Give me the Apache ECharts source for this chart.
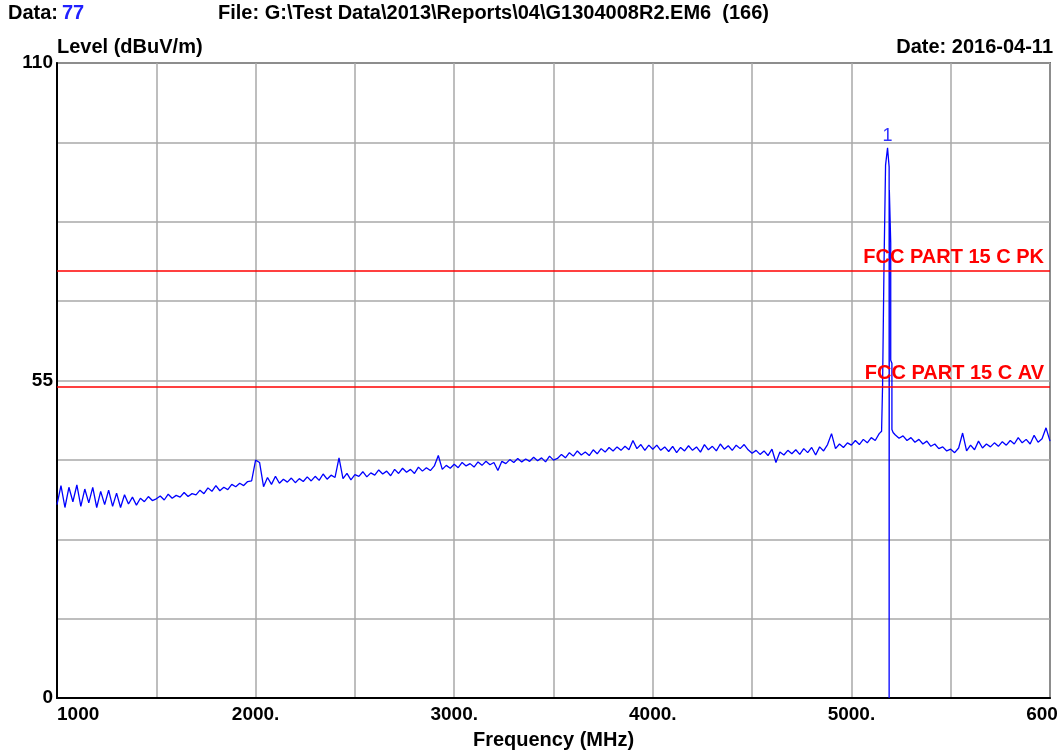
<!DOCTYPE html>
<html>
<head>
<meta charset="utf-8">
<script src="https://cdn.jsdelivr.net/npm/echarts@6/dist/echarts.min.js"></script>
<style>
html,body{margin:0;padding:0;background:#fff;}
#chart{width:1057px;height:751px;}
</style>
</head>
<body>
<div id="chart"></div>
<script>
// ---- data ----
const sweepStartA = 1000, sweepStep = 20;
const floorA = [
  33.5, 36.8, 33.0, 36.5, 34.0, 36.9, 33.2, 36.2, 33.8, 36.5,
  33.0, 35.8, 33.5, 36.0, 33.2, 35.5, 33.0, 35.2, 33.6, 34.8,
  33.4, 34.6, 34.0, 34.9, 34.2, 34.5, 35.0, 34.3, 35.3, 34.6,
  35.1, 34.8, 35.6, 34.9, 35.4, 35.2, 36.0, 35.4, 36.4, 35.8,
  36.8, 35.9, 36.5, 36.1, 37.0, 36.6, 37.2, 36.8, 37.5, 37.6,
  41.2, 40.8, 36.6, 38.2, 37.0, 38.4, 37.2, 37.9, 37.4, 38.1,
  37.3, 38.0, 37.5, 38.3, 37.6, 38.4, 37.7, 38.8, 37.9, 38.6,
  38.2, 41.6, 38.0, 38.9, 37.8, 38.7, 38.4, 39.2, 38.3, 39.0,
  38.6, 39.5, 38.8, 39.3, 38.5, 39.6, 38.9, 39.8, 39.1, 39.6,
  38.9, 40.0, 39.3, 39.9, 39.4, 40.2, 42.0, 39.6, 40.3, 39.8,
  40.5, 39.9, 40.8, 40.2, 40.6, 40.0, 40.9, 40.3, 41.0, 40.4,
  40.8, 39.4, 41.0, 40.6, 41.3, 40.8, 41.5, 40.9, 41.4, 41.0,
  41.7, 41.1, 41.6, 40.9, 41.9, 41.2, 41.5, 42.2, 41.6, 42.5,
  41.9, 42.8, 42.1, 42.6, 42.0, 43.0, 42.3, 43.2, 42.6, 43.4,
  42.8, 43.5, 42.9, 43.6, 43.0, 44.6, 43.2, 43.9, 42.9, 43.8,
  43.1, 43.8, 42.9, 43.5, 42.7, 43.6, 42.5, 43.4, 42.8, 43.7,
  42.9, 43.5, 42.6, 43.9, 43.0, 43.6, 42.8, 44.0, 43.1, 43.7,
  42.9, 43.8, 43.2, 43.9, 43.0, 42.4, 42.9, 42.2, 42.8, 42.0,
  43.1, 40.8, 42.6, 42.1, 42.9, 42.3, 43.0, 42.2, 43.2, 42.5,
  43.4, 42.1, 43.5, 42.8, 43.9, 45.8, 43.2, 44.0, 43.4, 44.2,
  43.8, 44.6, 43.9, 44.8, 44.2, 45.1, 44.6, 45.8
];
const peakFreqs  = [5152, 5157, 5157, 5164, 5164, 5172, 5182, 5188, 5190, 5190, 5191, 5198, 5198, 5204, 5204, 5210];
const peakLevels = [46.2, 46.0, 54.2, 54.5, 74.5, 92.3, 95.3, 92.8, 92.0,  0.0, 88.0, 78.8, 58.5, 58.0, 46.5, 46.0];
const sweepStartB = 5220;
const floorB = [
  45.6, 45.0, 45.4, 44.6, 45.1, 44.3, 44.8, 44.0, 44.5, 43.6,
  44.0, 43.2, 43.5, 42.8, 43.1, 42.5, 43.3, 45.9, 42.8, 43.8,
  43.0, 44.5, 43.3, 44.0, 43.5, 44.2, 43.6, 44.4, 43.8, 44.6,
  44.0, 45.1, 44.2, 44.8, 44.0, 45.5, 44.3, 44.9, 46.8, 44.5
];
const limitPK = 74, limitAV = 54;
const limitNames = ['FCC PART 15 C PK', 'FCC PART 15 C AV'];
const markerFreq = 5182, markerLevel = 95.3, markerName = '1';
const xTickLabels = {1000:'1000', 2000:'2000.', 3000:'3000.', 4000:'4000.', 5000:'5000.', 6000:'6000.'};
const yTickLabels = {0:'0', 55:'55', 110:'110'};

// ---- build series points ----
const pts = [];
floorA.forEach((v, i) => pts.push([sweepStartA + i * sweepStep, v]));
peakFreqs.forEach((f, i) => pts.push([f, peakLevels[i]]));
floorB.forEach((v, i) => pts.push([sweepStartB + i * sweepStep, v]));

const FONT = '"Liberation Sans", Arial, sans-serif';
const chart = echarts.init(document.getElementById('chart'), null, {renderer: 'canvas'});
chart.setOption({
  animation: false,
  backgroundColor: '#fff',
  grid: {left: 57, right: 7, top: 63, bottom: 53, show: true, borderColor: '#000', borderWidth: 1.5,
    containLabel: false, outerBoundsMode: 'none'},
  xAxis: {
    type: 'value', min: 1000, max: 6000, interval: 500,
    axisLine: {show: true, onZero: false, lineStyle: {color: '#000', width: 2}},
    axisTick: {show: false},
    splitLine: {show: true, lineStyle: {color: '#a8a8a8', width: 1.5}},
    axisLabel: {
      margin: 7, color: '#000', fontFamily: FONT, fontWeight: 'bold', fontSize: 19,
      alignMinLabel: 'left', hideOverlap: false,
      formatter: v => xTickLabels[v] !== undefined ? xTickLabels[v] : ''
    },
    name: 'Frequency (MHz)', nameLocation: 'middle', nameGap: 32,
    nameTextStyle: {color: '#000', fontFamily: FONT, fontWeight: 'bold', fontSize: 20}
  },
  yAxis: {
    type: 'value', min: 0, max: 110, interval: 13.75,
    axisLine: {show: true, onZero: false, lineStyle: {color: '#000', width: 2}},
    axisTick: {show: false},
    splitLine: {show: true, lineStyle: {color: '#a8a8a8', width: 1.5}},
    axisLabel: {
      margin: 4, color: '#000', fontFamily: FONT, fontWeight: 'bold', fontSize: 19,
      formatter: v => yTickLabels[v] !== undefined ? yTickLabels[v] : ''
    }
  },
  series: [{
    type: 'line', data: pts, symbol: 'none', sampling: null,
    lineStyle: {color: '#0000ff', width: 1.3},
    markLine: {
      silent: true, symbol: 'none',
      lineStyle: {color: '#ff0000', width: 1.5, type: 'solid'},
      label: {
        show: true, position: 'insideEndTop', color: '#ff0000',
        fontFamily: FONT, fontWeight: 'bold', fontSize: 20, distance: [6, 3],
        formatter: p => p.name
      },
      data: [
        {yAxis: limitPK, name: limitNames[0]},
        {yAxis: limitAV, name: limitNames[1]}
      ]
    },
    markPoint: {
      silent: true, symbol: 'circle', symbolSize: 0,
      label: {show: true, position: 'top', distance: 3, color: '#3030ff',
        fontFamily: FONT, fontSize: 18, formatter: p => p.name},
      data: [{name: markerName, coord: [markerFreq, markerLevel]}]
    }
  }],
  graphic: [
    {type: 'text', left: 8, top: 3, style: {text: 'Data:', fill: '#000', font: 'bold 20px ' + FONT}},
    {type: 'text', left: 62, top: 3, style: {text: '77', fill: '#2020ff', font: 'bold 20px ' + FONT}},
    {type: 'text', left: 218, top: 3, style: {text: 'File: G:\\Test Data\\2013\\Reports\\04\\G1304008R2.EM6  (166)', fill: '#000', font: 'bold 20px ' + FONT}},
    {type: 'text', left: 57, top: 37, style: {text: 'Level (dBuV/m)', fill: '#000', font: 'bold 20px ' + FONT}},
    {type: 'text', right: 4, top: 37, style: {text: 'Date: 2016-04-11', fill: '#000', font: 'bold 20px ' + FONT}}
  ]
});
</script>
</body>
</html>
